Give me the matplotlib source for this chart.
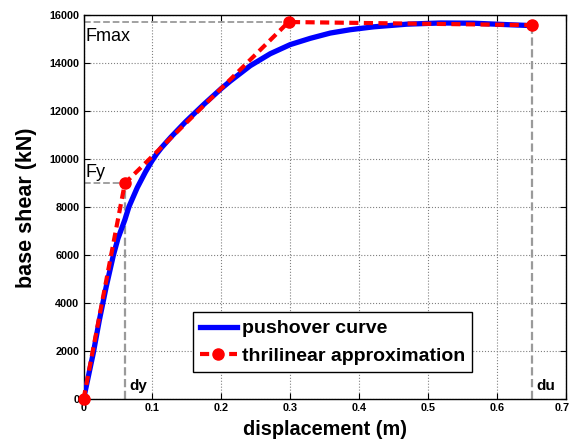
import matplotlib
matplotlib.use("Agg")
import matplotlib.pyplot as plt
from matplotlib.transforms import ScaledTranslation

plt.rcParams['font.family'] = ['Liberation Sans', 'DejaVu Sans']

# Pushover curve (displacement in m, base shear in kN)
push_disp = [0.0, 0.014, 0.023, 0.033, 0.0433, 0.05, 0.06, 0.066, 0.078, 0.09,
             0.099, 0.106, 0.113, 0.127, 0.148, 0.175, 0.2, 0.213, 0.242, 0.271, 0.3,
             0.329, 0.358, 0.387, 0.421, 0.469, 0.518, 0.566, 0.615, 0.651]
push_shear = [0, 1900, 3300, 4700, 6000, 6700, 7480, 8030, 8820, 9480,
              9920, 10220, 10480, 10930, 11560, 12300, 12950, 13260, 13900, 14400, 14780,
              15040, 15260, 15400, 15520, 15630, 15680, 15670, 15610, 15570]

# Trilinear approximation: origin, yield, peak, ultimate
tri_disp = [0.0, 0.06, 0.2975, 0.651]
tri_shear = [0, 9000, 15720, 15590]

x_ticks = [0, 0.1, 0.2, 0.3, 0.4, 0.5, 0.6, 0.7]
x_labels = ['0', '0.1', '0.2', '0.3', '0.4', '0.5', '0.6', '0.7']
y_ticks = [0, 2000, 4000, 6000, 8000, 10000, 12000, 14000, 16000]

fig = plt.figure(figsize=(5.72, 4.46), dpi=100)
ax = fig.add_axes([0.1460, 0.1047, 0.8435, 0.8610])

grey = '#9a9a9a'
# dashed guides to the characteristic points
ax.plot([0, tri_disp[2]], [tri_shear[2], tri_shear[2]], '--', color=grey, lw=1.3, zorder=2)
ax.plot([0, tri_disp[1]], [tri_shear[1], tri_shear[1]], '--', color=grey, lw=1.3, zorder=2)
ax.plot([tri_disp[1], tri_disp[1]], [0, tri_shear[1]], '--', color=grey, lw=1.6, zorder=2)
ax.plot([tri_disp[3], tri_disp[3]], [0, tri_shear[3]], '--', color=grey, lw=1.6, zorder=2)

ax.plot(push_disp, push_shear, '-', color='#0000ff', lw=3.8, label='pushover curve',
        zorder=3, solid_joinstyle='round')
ax.plot(tri_disp, tri_shear, '--', color='#ff0000', lw=3.0, dashes=(2.2, 1.3),
        marker='o', markersize=8, label='thrilinear approximation', zorder=4,
        clip_on=False)

ax.text(0.003, 15130, 'Fmax', fontsize=13, va='center', ha='left')
ax.text(0.003, 9430, 'Fy', fontsize=13, va='center', ha='left')
ax.text(0.067, 560, 'dy', fontsize=11, fontweight='bold', va='center', ha='left')
ax.text(0.657, 560, 'du', fontsize=11, fontweight='bold', va='center', ha='left')

ax.set_xlim(0, 0.7)
ax.set_ylim(0, 16000)
ax.set_xticks(x_ticks)
ax.set_xticklabels(x_labels)
ax.set_yticks(y_ticks)
ax.set_yticklabels([str(v) for v in y_ticks])
ax.tick_params(direction='in', top=True, right=True, length=4, width=0.8,
               labelsize=7.8, pad=3)
for lab in ax.get_xticklabels() + ax.get_yticklabels():
    lab.set_fontweight('bold')
# keep the last x tick label inside the figure edge
last = ax.get_xticklabels()[-1]
last.set_transform(last.get_transform() + ScaledTranslation(-3 / 72, 0, fig.dpi_scale_trans))
ax.grid(True, linestyle=':', color='#808080', linewidth=0.8)
for s in ax.spines.values():
    s.set_linewidth(1.0)

ax.set_xlabel('displacement (m)', fontsize=14.3, fontweight='bold', labelpad=5)
ax.set_ylabel('base shear (kN)', fontsize=15.5, fontweight='bold', labelpad=9)

leg = ax.legend(loc='lower center', bbox_to_anchor=(0.516, 0.071),
                prop={'weight': 'bold', 'size': 14}, handlelength=1.9,
                fancybox=False, framealpha=1, edgecolor='black',
                borderpad=0.38, labelspacing=0.5, handletextpad=0.25,
                borderaxespad=0.0)
leg.get_frame().set_linewidth(1.0)

fig.savefig('out.png', dpi=100)
